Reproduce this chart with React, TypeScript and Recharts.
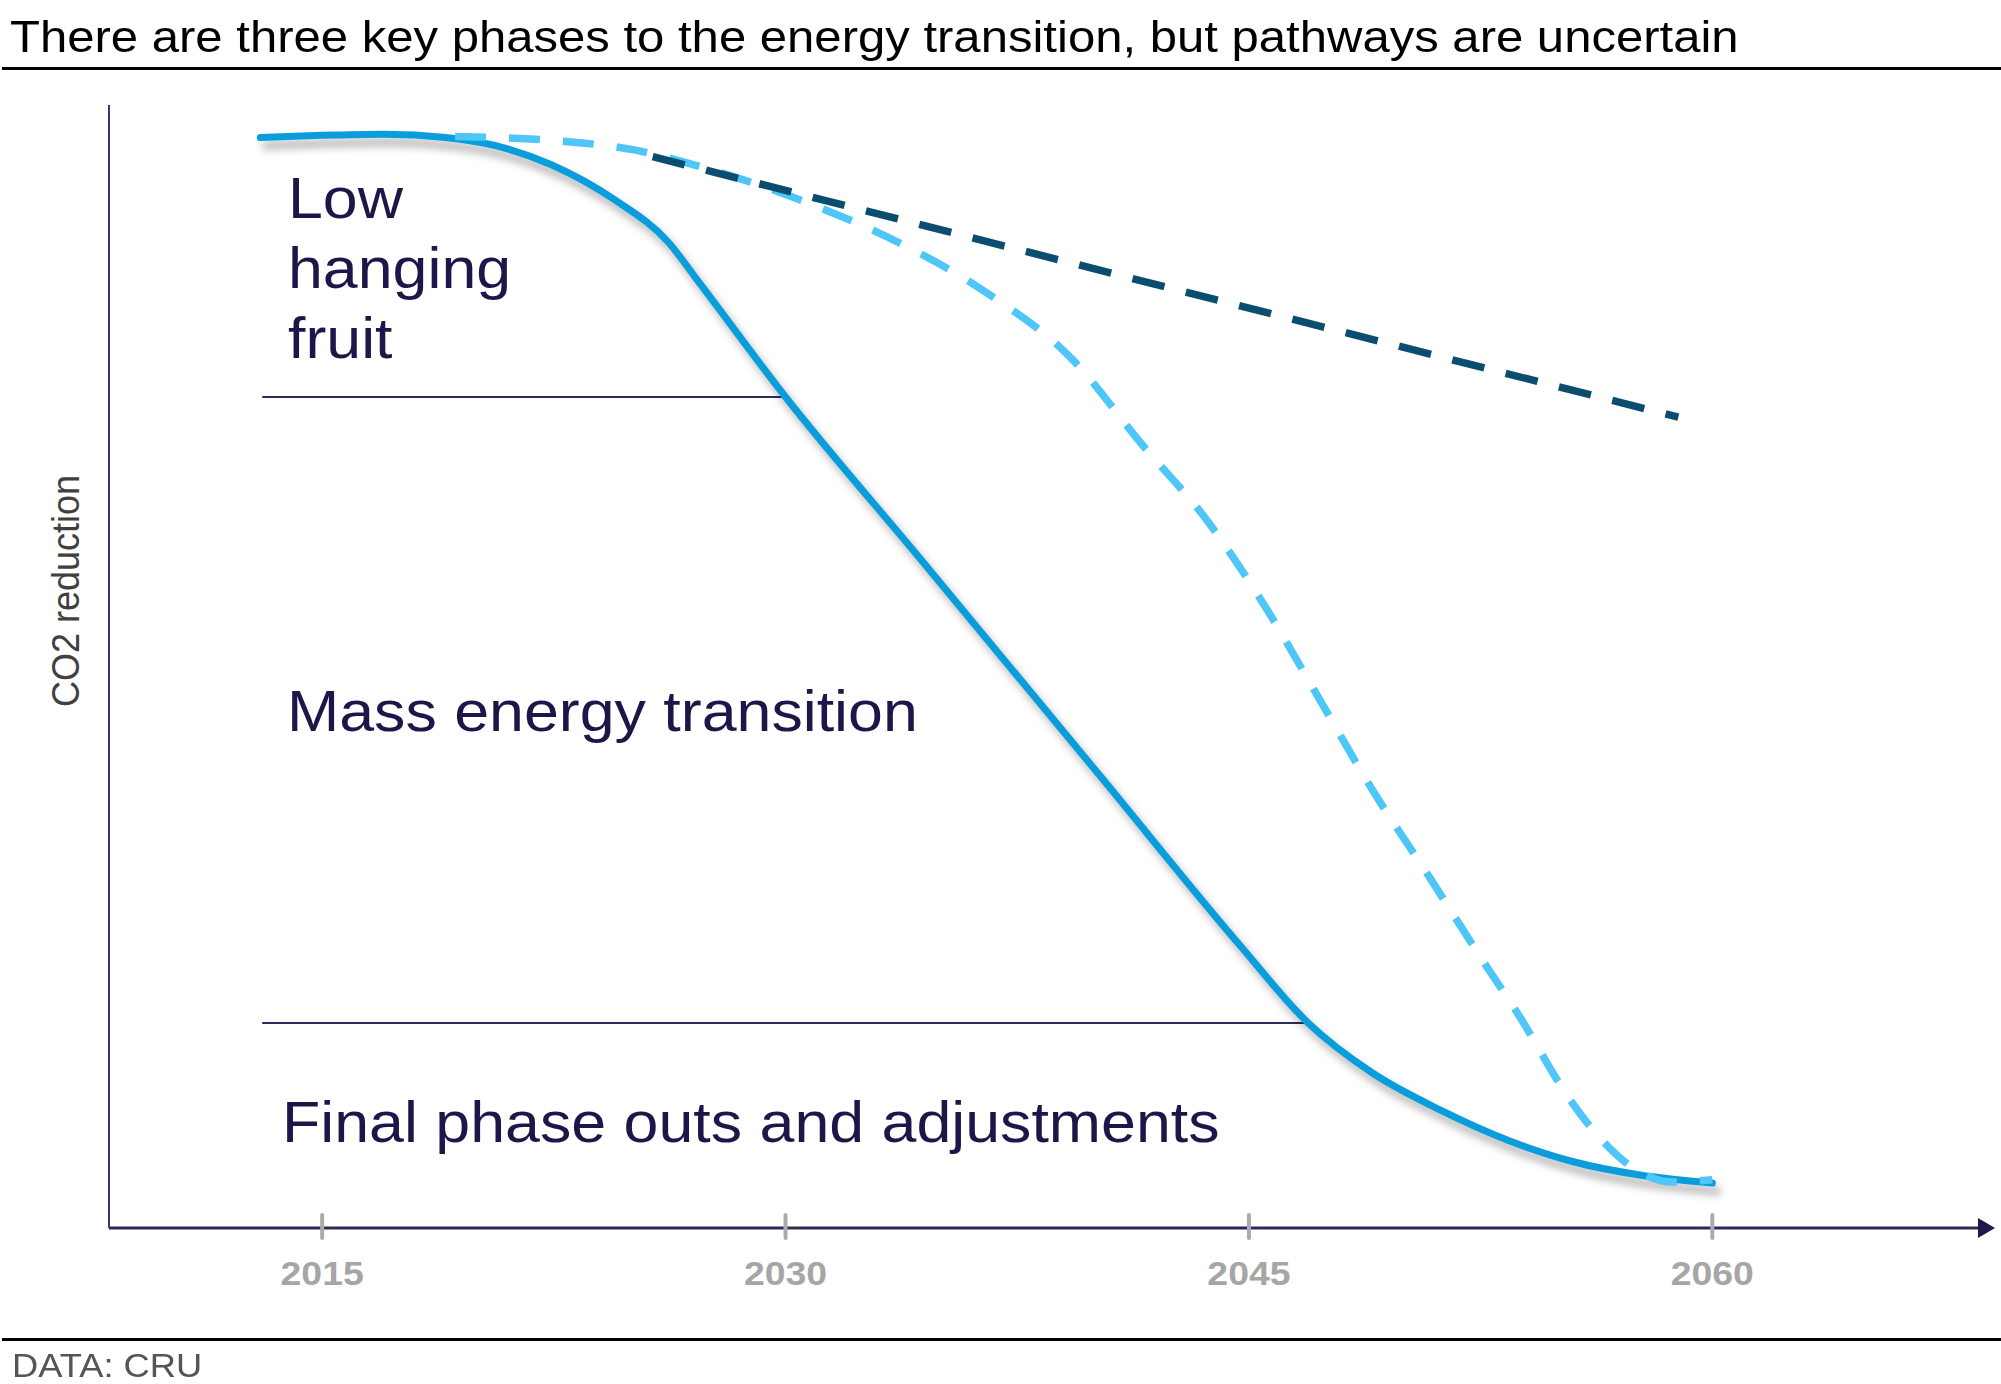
import React from 'react';
import { LineChart, Line, XAxis, YAxis, ReferenceLine } from 'recharts';

// Years on the x axis, values as a 0-100 "emissions level" index (0 = axis)
const solidYears = [2013, 2015, 2017, 2019, 2021, 2022.4, 2024.5, 2026.2, 2027.2, 2030, 2034.3, 2040.2, 2044.7, 2046.9, 2049, 2051.2, 2053.4, 2055.5, 2057.7, 2060];
const solidValues = [97.1, 97.3, 97.4, 97.1, 96.1, 94.7, 91.5, 87.8, 84.2, 74.0, 59.8, 40.2, 25.2, 18.3, 13.8, 10.5, 7.8, 5.9, 4.7, 4.0];

const delayedYears = [2019.3, 2023.5, 2025.1, 2027.0, 2028.9, 2030.7, 2033.7, 2036.5, 2039.3, 2041.5, 2043.7, 2045.6, 2047.3, 2049.0, 2050.9, 2052.5, 2053.7, 2055.4, 2056.5, 2057.7, 2058.7, 2060.0];
const delayedValues = [97.2, 96.6, 96.0, 94.7, 93.1, 91.3, 87.7, 83.3, 77.3, 69.9, 62.8, 55.0, 47.0, 39.0, 31.0, 24.1, 19.1, 11.4, 7.6, 4.9, 4.1, 4.3];

const slowYears = [2025.7, 2058.9];
const slowValues = [95.4, 72.2];

const tickYears = [2015, 2030, 2045, 2060];

// phase dividers: [fromYear, toYear, level]
const phaseDividers = [
  [2013.06, 2030.0, 74.0],
  [2013.06, 2046.8, 18.25],
];

const toRows = (years: number[], values: number[]) => years.map((year, i) => ({ year, value: values[i] }));

const solidData = toRows(solidYears, solidValues);
const delayedData = toRows(delayedYears, delayedValues);
const slowData = toRows(slowYears, slowValues);

const FONT = '"Liberation Sans", Arial, Helvetica, sans-serif';
const NAVY_TEXT = '#1c1748';

function YearTick(props: any) {
  const { x, y, payload } = props;
  return (
    <g transform={`translate(${x},${y})`}>
      <line x1={0} x2={0} y1={-13} y2={10} stroke="#ababab" strokeWidth={4} strokeLinecap="round" />
      <text
        transform="scale(1.1,1)"
        x={0}
        y={57}
        textAnchor="middle"
        fontSize={34}
        fontWeight="bold"
        fill="#a6a6a6"
        fontFamily={FONT}
      >
        {payload.value}
      </text>
    </g>
  );
}

const label = (top: number, left: number, fontSize: number, extra: React.CSSProperties = {}): React.CSSProperties => ({
  position: 'absolute',
  top,
  left,
  fontSize,
  fontFamily: FONT,
  color: NAVY_TEXT,
  lineHeight: 1,
  whiteSpace: 'nowrap',
  transform: 'scaleX(1.1)',
  transformOrigin: 'left top',
  ...extra,
});

export default function App() {
  return (
    <div style={{ position: 'absolute', left: 0, top: 0, width: 2001, height: 1384, background: '#fff', overflow: 'hidden' }}>
      <style>{`.solid-path path.recharts-line-curve { filter: drop-shadow(5px 8px 4px rgba(0,0,0,0.32)); }`}</style>
      <svg width={0} height={0} style={{ position: 'absolute' }}>
        <defs>
          <marker id="axis-arrow" markerUnits="userSpaceOnUse" markerWidth={17} markerHeight={20} refX={0} refY={10} orient="auto">
            <path d="M0,0 L17,10 L0,20 z" fill="#1f1a4a" />
          </marker>
        </defs>
      </svg>

      <div style={label(14, 10, 45, { color: '#000', transform: 'scaleX(1.09)' })}>
        There are three key phases to the energy transition, but pathways are uncertain
      </div>
      <div style={{ position: 'absolute', left: 2, top: 67, width: 1999, height: 3, background: '#000' }} />

      <div style={{ position: 'absolute', left: 0, top: 0 }}>
        <LineChart width={2001} height={1384} margin={{ top: 105, right: 23, bottom: 96, left: 107 }}>
          <XAxis
            type="number"
            dataKey="year"
            domain={[2008.1, 2068.6]}
            ticks={tickYears}
            allowDataOverflow
            height={60}
            tickSize={0}
            tickMargin={0}
            tickLine={false}
            tick={<YearTick />}
            axisLine={{ stroke: '#2d2858', strokeWidth: 3, markerEnd: 'url(#axis-arrow)' } as any}
          />
          <YAxis
            type="number"
            domain={[0, 100]}
            width={2}
            tick={false}
            tickLine={false}
            axisLine={{ stroke: '#3b3670', strokeWidth: 2 }}
          />
          {phaseDividers.map(([x1, x2, level], i) => (
            <ReferenceLine
              key={i}
              segment={[{ x: x1, y: level }, { x: x2, y: level }]}
              stroke="#2e2a5c"
              strokeWidth={2}
              ifOverflow="visible"
            />
          ))}
          <Line
            className="solid-path"
            data={solidData}
            dataKey="value"
            type="monotone"
            stroke="#0a9ddb"
            strokeWidth={7}
            strokeLinecap="round"
            dot={false}
            activeDot={false}
            isAnimationActive={false}
          />
          <Line
            data={delayedData}
            dataKey="value"
            type="monotone"
            stroke="#4fc6f8"
            strokeWidth={7.5}
            strokeDasharray="31 23"
            dot={false}
            activeDot={false}
            isAnimationActive={false}
          />
          <Line
            data={slowData}
            dataKey="value"
            type="linear"
            stroke="#0a4d6e"
            strokeWidth={7.5}
            strokeDasharray="33 22"
            dot={false}
            activeDot={false}
            isAnimationActive={false}
          />
        </LineChart>
      </div>

      <div style={label(163, 288, 57, { lineHeight: '70px' })}>
        Low
        <br />
        hanging
        <br />
        fruit
      </div>
      <div style={label(683, 287, 57)}>Mass energy transition</div>
      <div style={label(1094, 282, 57)}>Final phase outs and adjustments</div>

      <div
        style={{
          position: 'absolute',
          left: 66,
          top: 591,
          fontSize: 36,
          fontFamily: FONT,
          color: '#404040',
          lineHeight: 1,
          whiteSpace: 'nowrap',
          transform: 'translate(-50%, -50%) rotate(-90deg) scaleY(1.1)',
        }}
      >
        CO2 reduction
      </div>

      <div style={{ position: 'absolute', left: 2, top: 1338, width: 1999, height: 3, background: '#000' }} />
      <div style={label(1349, 12, 33, { color: '#555' })}>DATA: CRU</div>
    </div>
  );
}
